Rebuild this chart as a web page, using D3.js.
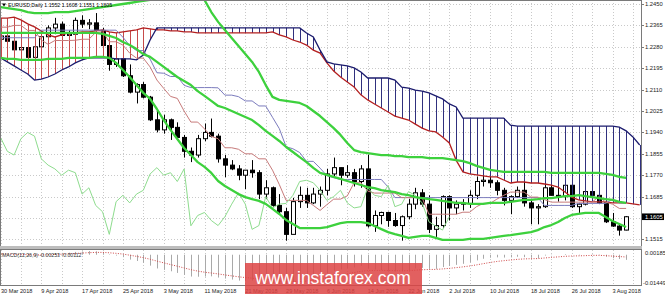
<!DOCTYPE html>
<html lang="en">
<head>
<meta charset="utf-8">
<title>EURUSD Daily</title>
<script src="https://cdnjs.cloudflare.com/ajax/libs/d3/7.8.5/d3.min.js"></script>
<style>
  body { margin: 0; padding: 0; background: white; }
  svg { display: block; background: white; }
  text { font-family: "Liberation Sans", Arial, sans-serif; }
</style>
</head>
<body>
<div id="chart"></div>
<script>
// bars: 30 Mar 2018 .. 7 Aug 2018
var dates = ["2018-03-30","2018-04-02","2018-04-03","2018-04-04","2018-04-05","2018-04-06","2018-04-09","2018-04-10","2018-04-11","2018-04-12","2018-04-13","2018-04-16","2018-04-17","2018-04-18","2018-04-19","2018-04-20","2018-04-23","2018-04-24","2018-04-25","2018-04-26","2018-04-27","2018-04-30","2018-05-01","2018-05-02","2018-05-03","2018-05-04","2018-05-07","2018-05-08","2018-05-09","2018-05-10","2018-05-11","2018-05-14","2018-05-15","2018-05-16","2018-05-17","2018-05-18","2018-05-21","2018-05-22","2018-05-23","2018-05-24","2018-05-25","2018-05-28","2018-05-29","2018-05-30","2018-05-31","2018-06-01","2018-06-04","2018-06-05","2018-06-06","2018-06-07","2018-06-08","2018-06-11","2018-06-12","2018-06-13","2018-06-14","2018-06-15","2018-06-18","2018-06-19","2018-06-20","2018-06-21","2018-06-22","2018-06-25","2018-06-26","2018-06-27","2018-06-28","2018-06-29","2018-07-02","2018-07-03","2018-07-04","2018-07-05","2018-07-06","2018-07-09","2018-07-10","2018-07-11","2018-07-12","2018-07-13","2018-07-16","2018-07-17","2018-07-18","2018-07-19","2018-07-20","2018-07-23","2018-07-24","2018-07-25","2018-07-26","2018-07-27","2018-07-30","2018-07-31","2018-08-01","2018-08-02","2018-08-03","2018-08-06","2018-08-07"];

var opens = [1.2310,1.2323,1.2302,1.2268,1.2277,1.2238,1.2280,1.2320,1.2355,1.2370,
  1.2325,1.2330,1.2385,1.2370,1.2375,1.2345,1.2285,1.2210,1.2232,1.2165,
  1.2100,1.2130,1.2080,1.1990,1.1950,1.1990,1.1960,1.1920,1.1865,1.1850,
  1.1915,1.1940,1.1925,1.1835,1.1810,1.1795,1.1770,1.1790,1.1780,1.1695,
  1.1720,1.1650,1.1625,1.1535,1.1665,1.1690,1.1660,1.1695,1.1710,1.1775,
  1.1800,1.1770,1.1780,1.1745,1.1795,1.1569,1.1610,1.1622,1.1590,1.1570,
  1.1605,1.1655,1.1700,1.1655,1.1555,1.1570,1.1685,1.1640,1.1655,1.1658,
  1.1690,1.1745,1.1750,1.1740,1.1710,1.1670,1.1685,1.1710,1.1660,1.1640,
  1.1645,1.1720,1.1690,1.1685,1.1730,1.1645,1.1655,1.1705,1.1690,1.1660,
  1.1585,1.1568,1.1552];
var highs = [1.2335,1.2345,1.2325,1.2310,1.2290,1.2295,1.2340,1.2365,1.2395,1.2380,
  1.2345,1.2396,1.2405,1.2390,1.2414,1.2355,1.2295,1.2255,1.2240,1.2210,
  1.2135,1.2140,1.2085,1.2025,1.2010,1.1995,1.1980,1.1930,1.1880,1.1930,
  1.1975,1.1995,1.1935,1.1850,1.1830,1.1810,1.1790,1.1830,1.1790,1.1750,
  1.1725,1.1695,1.1640,1.1680,1.1725,1.1720,1.1720,1.1725,1.1795,1.1840,
  1.1800,1.1810,1.1795,1.1810,1.1852,1.1630,1.1625,1.1625,1.1620,1.1610,
  1.1675,1.1720,1.1715,1.1690,1.1605,1.1690,1.1690,1.1670,1.1675,1.1710,
  1.1765,1.1790,1.1770,1.1750,1.1720,1.1690,1.1725,1.1745,1.1675,1.1655,
  1.1750,1.1740,1.1730,1.1735,1.1745,1.1660,1.1720,1.1745,1.1710,1.1665,
  1.1620,1.1575,1.1608];
var lows = [1.2305,1.2290,1.2255,1.2255,1.2215,1.2215,1.2260,1.2310,1.2330,1.2305,
  1.2295,1.2320,1.2355,1.2350,1.2340,1.2265,1.2185,1.2200,1.2160,1.2095,
  1.2055,1.2075,1.1985,1.1940,1.1935,1.1910,1.1910,1.1840,1.1822,1.1840,
  1.1905,1.1920,1.1820,1.1762,1.1790,1.1750,1.1715,1.1760,1.1675,1.1675,
  1.1645,1.1615,1.1510,1.1535,1.1640,1.1640,1.1655,1.1645,1.1690,1.1765,
  1.1730,1.1760,1.1725,1.1720,1.1562,1.1545,1.1575,1.1565,1.1565,1.1510,
  1.1595,1.1635,1.1645,1.1540,1.1525,1.1560,1.1590,1.1615,1.1630,1.1640,
  1.1675,1.1725,1.1720,1.1690,1.1650,1.1615,1.1680,1.1645,1.1575,1.1575,
  1.1640,1.1690,1.1665,1.1670,1.1640,1.1620,1.1650,1.1685,1.1655,1.1580,
  1.1565,1.1530,1.1551];
var closes = [1.2323,1.2302,1.2268,1.2277,1.2238,1.2280,1.2320,1.2355,1.2370,1.2325,
  1.2330,1.2385,1.2370,1.2375,1.2345,1.2285,1.2210,1.2232,1.2165,1.2100,
  1.2130,1.2080,1.1990,1.1950,1.1990,1.1960,1.1920,1.1865,1.1850,1.1915,
  1.1940,1.1925,1.1835,1.1810,1.1795,1.1770,1.1790,1.1780,1.1695,1.1720,
  1.1650,1.1625,1.1535,1.1665,1.1690,1.1660,1.1695,1.1710,1.1775,1.1800,
  1.1770,1.1780,1.1745,1.1795,1.1569,1.1610,1.1622,1.1590,1.1570,1.1605,
  1.1655,1.1700,1.1655,1.1555,1.1570,1.1685,1.1640,1.1655,1.1658,1.1690,
  1.1745,1.1750,1.1740,1.1710,1.1670,1.1685,1.1710,1.1660,1.1640,1.1645,
  1.1720,1.1690,1.1685,1.1730,1.1645,1.1655,1.1705,1.1690,1.1660,1.1585,
  1.1568,1.1552,1.1605];

// Bollinger bands (green)
var bbUpper = [1.2438,1.2434,1.2430,1.2426,1.2418,1.2414,1.2414,1.2414,1.2418,1.2418,
  1.2418,1.2422,1.2426,1.2430,1.2434,1.2438,1.2442,1.2446,1.2450,1.2454,
  1.2458,1.2462,1.2466,1.2478,1.2490,1.2498,1.2502,1.2498,1.2490,1.2478,
  1.2466,1.2418,1.2379,1.2347,1.2315,1.2283,1.2251,1.2220,1.2180,1.2128,
  1.2081,1.2069,1.2065,1.2061,1.2057,1.2045,1.2025,1.2005,1.1981,1.1957,
  1.1930,1.1898,1.1870,1.1862,1.1858,1.1854,1.1850,1.1850,1.1846,1.1846,
  1.1842,1.1842,1.1842,1.1838,1.1838,1.1838,1.1834,1.1830,1.1826,1.1818,
  1.1807,1.1799,1.1791,1.1787,1.1783,1.1783,1.1783,1.1783,1.1783,1.1783,
  1.1783,1.1779,1.1779,1.1779,1.1779,1.1779,1.1779,1.1779,1.1779,1.1775,
  1.1771,1.1763,1.1759];
var bbMiddle = [1.2335,1.2335,1.2335,1.2335,1.2335,1.2335,1.2335,1.2335,1.2335,1.2335,
  1.2335,1.2335,1.2335,1.2335,1.2335,1.2331,1.2323,1.2315,1.2299,1.2287,
  1.2271,1.2251,1.2240,1.2220,1.2200,1.2180,1.2160,1.2144,1.2128,1.2104,
  1.2085,1.2065,1.2045,1.2037,1.2025,1.2013,1.2001,1.1989,1.1969,1.1946,
  1.1926,1.1906,1.1882,1.1862,1.1842,1.1822,1.1799,1.1779,1.1771,1.1763,
  1.1755,1.1747,1.1739,1.1731,1.1723,1.1719,1.1711,1.1707,1.1703,1.1695,
  1.1691,1.1683,1.1679,1.1675,1.1672,1.1668,1.1664,1.1660,1.1660,1.1656,
  1.1656,1.1656,1.1660,1.1660,1.1660,1.1664,1.1668,1.1672,1.1672,1.1675,
  1.1679,1.1679,1.1683,1.1687,1.1687,1.1691,1.1687,1.1683,1.1679,1.1675,
  1.1672,1.1664,1.1660];
var bbLower = [1.2236,1.2232,1.2232,1.2228,1.2228,1.2228,1.2228,1.2232,1.2232,1.2232,
  1.2236,1.2236,1.2236,1.2236,1.2240,1.2240,1.2236,1.2216,1.2188,1.2160,
  1.2128,1.2097,1.2073,1.2033,1.1989,1.1950,1.1914,1.1878,1.1850,1.1822,
  1.1803,1.1779,1.1747,1.1727,1.1711,1.1695,1.1683,1.1675,1.1668,1.1656,
  1.1636,1.1616,1.1592,1.1576,1.1560,1.1560,1.1560,1.1560,1.1564,1.1572,
  1.1580,1.1584,1.1584,1.1584,1.1580,1.1568,1.1556,1.1544,1.1536,1.1529,
  1.1521,1.1525,1.1529,1.1529,1.1521,1.1513,1.1513,1.1513,1.1513,1.1517,
  1.1517,1.1517,1.1521,1.1525,1.1529,1.1532,1.1536,1.1540,1.1544,1.1552,
  1.1564,1.1572,1.1584,1.1600,1.1612,1.1616,1.1620,1.1620,1.1620,1.1604,
  1.1588,1.1576,1.1564];

// Ichimoku
var tenkan = [1.2358,1.2358,1.2365,1.2365,1.2345,1.2345,1.2307,1.2290,1.2305,1.2305,
  1.2305,1.2306,1.2310,1.2310,1.2337,1.2340,1.2300,1.2300,1.2287,1.2255,
  1.2235,1.2235,1.2200,1.2148,1.2115,1.2083,1.2075,1.2025,1.1981,1.1981,
  1.1954,1.1924,1.1915,1.1879,1.1879,1.1873,1.1855,1.1855,1.1835,1.1835,
  1.1790,1.1733,1.1670,1.1670,1.1670,1.1670,1.1650,1.1630,1.1653,1.1675,
  1.1675,1.1688,1.1740,1.1740,1.1707,1.1699,1.1699,1.1699,1.1699,1.1681,
  1.1681,1.1681,1.1681,1.1615,1.1615,1.1615,1.1615,1.1615,1.1623,1.1623,
  1.1645,1.1658,1.1658,1.1675,1.1690,1.1703,1.1703,1.1703,1.1683,1.1683,
  1.1673,1.1663,1.1663,1.1663,1.1663,1.1663,1.1663,1.1663,1.1685,1.1663,
  1.1655,1.1638,1.1638];
var kijun = [1.2316,1.2316,1.2316,1.2316,1.2316,1.2316,1.2346,1.2346,1.2346,1.2346,
  1.2346,1.2346,1.2346,1.2346,1.2346,1.2346,1.2346,1.2346,1.2318,1.2285,
  1.2265,1.2265,1.2231,1.2177,1.2175,1.2162,1.2162,1.2127,1.2118,1.2118,
  1.2118,1.2118,1.2117,1.2088,1.2088,1.2082,1.2065,1.2065,1.2045,1.2045,
  1.2000,1.1955,1.1883,1.1875,1.1860,1.1825,1.1825,1.1798,1.1768,1.1760,
  1.1753,1.1753,1.1753,1.1753,1.1753,1.1753,1.1753,1.1723,1.1681,1.1681,
  1.1681,1.1681,1.1681,1.1681,1.1681,1.1681,1.1681,1.1681,1.1681,1.1681,
  1.1681,1.1681,1.1681,1.1681,1.1681,1.1681,1.1681,1.1681,1.1681,1.1681,
  1.1650,1.1650,1.1650,1.1650,1.1650,1.1658,1.1658,1.1658,1.1658,1.1658,
  1.1675,1.1660,1.1660];
var spanA = [1.2394,1.2394,1.2398,1.2387,1.2371,1.2359,1.2343,1.2327,1.2319,1.2327,
  1.2335,1.2335,1.2339,1.2339,1.2343,1.2347,1.2339,1.2335,1.2339,1.2343,
  1.2347,1.2355,1.2351,1.2347,1.2347,1.2343,1.2343,1.2339,1.2339,1.2335,
  1.2335,1.2335,1.2335,1.2335,1.2335,1.2335,1.2335,1.2335,1.2335,1.2335,
  1.2339,1.2327,1.2319,1.2307,1.2299,1.2287,1.2267,1.2255,1.2216,1.2184,
  1.2160,1.2140,1.2120,1.2089,1.2069,1.2053,1.2037,1.2021,1.2005,1.1997,
  1.1989,1.1973,1.1957,1.1946,1.1942,1.1922,1.1898,1.1830,1.1783,1.1775,
  1.1771,1.1767,1.1763,1.1763,1.1751,1.1739,1.1743,1.1743,1.1739,1.1739,
  1.1735,1.1731,1.1723,1.1703,1.1683,1.1672,1.1668,1.1664,1.1664,1.1664,
  1.1660,1.1660,1.1660,1.1656,1.1652];
var spanB = [1.2236,1.2220,1.2204,1.2188,1.2172,1.2148,1.2152,1.2160,1.2172,1.2188,
  1.2200,1.2216,1.2228,1.2236,1.2236,1.2236,1.2236,1.2232,1.2232,1.2232,
  1.2228,1.2247,1.2307,1.2355,1.2355,1.2355,1.2355,1.2355,1.2355,1.2355,
  1.2355,1.2355,1.2355,1.2355,1.2355,1.2355,1.2355,1.2355,1.2355,1.2355,
  1.2355,1.2355,1.2355,1.2355,1.2355,1.2335,1.2319,1.2267,1.2220,1.2212,
  1.2208,1.2204,1.2196,1.2180,1.2156,1.2156,1.2156,1.2156,1.2148,1.2120,
  1.2116,1.2108,1.2104,1.2097,1.2085,1.2073,1.2053,1.2041,1.1997,1.1997,
  1.1997,1.1997,1.1997,1.1997,1.1997,1.1969,1.1965,1.1965,1.1965,1.1965,
  1.1965,1.1965,1.1965,1.1965,1.1965,1.1965,1.1965,1.1965,1.1965,1.1965,
  1.1965,1.1961,1.1946,1.1922,1.1890];

// MACD(12,26,9)
var macdMain = [0.0005,0.0003,0.0000,-0.0002,-0.0005,-0.0005,-0.0002,0.0003,0.0008,0.0009,
  0.0010,0.0014,0.0016,0.0018,0.0017,0.0012,0.0002,-0.0004,-0.0012,-0.0024,
  -0.0031,-0.0040,-0.0054,-0.0068,-0.0075,-0.0082,-0.0090,-0.0100,-0.0108,-0.0109,
  -0.0108,-0.0107,-0.0113,-0.0118,-0.0123,-0.0128,-0.0128,-0.0128,-0.0134,-0.0135,
  -0.0140,-0.0144,-0.0145,-0.0137,-0.0128,-0.0122,-0.0113,-0.0104,-0.0092,-0.0080,
  -0.0073,-0.0066,-0.0063,-0.0055,-0.0067,-0.0073,-0.0076,-0.0080,-0.0083,-0.0082,
  -0.0076,-0.0068,-0.0065,-0.0069,-0.0070,-0.0061,-0.0056,-0.0050,-0.0045,-0.0038,
  -0.0028,-0.0020,-0.0015,-0.0013,-0.0014,-0.0013,-0.0010,-0.0012,-0.0015,-0.0017,
  -0.0004,-0.0002,0.0000,0.0003,0.0000,-0.0003,0.0000,0.0002,-0.0002,-0.0010,
  -0.0017,-0.0021,-0.00253];
var macdSignal = [0.00034,0.00033,0.00026,0.00017,0.00004,-0.00007,-0.00010,-0.00002,0.00014,0.00029,
  0.00043,0.00063,0.00082,0.00102,0.00115,0.00116,0.00097,0.00070,0.00032,-0.00022,
  -0.00080,-0.00144,-0.00223,-0.00315,-0.00402,-0.00486,-0.00569,-0.00655,-0.00740,-0.00810,
  -0.00864,-0.00905,-0.00950,-0.01000,-0.01046,-0.01093,-0.01130,-0.01160,-0.01196,-0.01227,
  -0.01262,-0.01297,-0.01328,-0.01336,-0.01325,-0.01304,-0.01269,-0.01223,-0.01162,-0.01090,
  -0.01018,-0.00946,-0.00883,-0.00816,-0.00787,-0.00776,-0.00773,-0.00778,-0.00789,-0.00795,
  -0.00788,-0.00766,-0.00743,-0.00732,-0.00726,-0.00703,-0.00674,-0.00639,-0.00601,-0.00557,
  -0.00502,-0.00442,-0.00383,-0.00333,-0.00294,-0.00261,-0.00229,-0.00207,-0.00196,-0.00191,
  -0.00161,-0.00133,-0.00106,-0.00079,-0.00063,-0.00056,-0.00045,-0.00032,-0.00030,-0.00044,
  -0.00069,-0.00090,-0.00112];

var priceTicks = [1.2450,1.2365,1.2280,1.2195,1.2110,1.2025,1.1940,1.1855,1.1770,1.1685,1.1600,1.1515];
var macdTicks = [0.00185,-0.01449];
var chartTitle = "EURUSD,Daily  1.1552 1.1608 1.1551 1.1605";
var macdTitle = "MACD(12,26,9) -0.00253 -0.00112";
var lastPrice = 1.1605;
var chikouShift = 26;

var width = 665, height = 294;
var axisX = 641, mainBottom = 246, macdTop = 250, macdBottom = 285;

var svg = d3.select("#chart")
  .append("svg")
  .attr("width", width)
  .attr("height", height);

var x = d3.scaleLinear().domain([0, 90]).range([0.5, 612.5]);
var y = d3.scaleLinear().domain([1.1515, 1.2450]).range([239.4, 4]);
var ym = d3.scaleLinear().domain([-0.01449, 0.00185]).range([284, 251]);
var px = function(i){ return Math.round(x(i)) + 0.5; };
var parseDate = d3.timeParse("%Y-%m-%d");
var fmtDate = d3.timeFormat("%-d %b %Y");

var defs = svg.append("defs");
defs.append("clipPath").attr("id", "clipMain")
  .append("rect").attr("x", 0).attr("y", 0).attr("width", axisX).attr("height", mainBottom);
defs.append("clipPath").attr("id", "clipMacd")
  .append("rect").attr("x", 0).attr("y", macdTop).attr("width", axisX).attr("height", macdBottom - macdTop);

// grid
var gridCols = d3.range(0, 94, 3);
var grid = svg.append("g").attr("stroke", "#c9c9c9").attr("stroke-dasharray", "1,2").attr("stroke-width", 1);
grid.selectAll("line.v").data(gridCols).enter().append("line")
  .attr("x1", px).attr("x2", px).attr("y1", 0).attr("y2", mainBottom);
grid.selectAll("line.vm").data(gridCols).enter().append("line")
  .attr("x1", px).attr("x2", px).attr("y1", macdTop).attr("y2", macdBottom);
grid.selectAll("line.h").data(priceTicks).enter().append("line")
  .attr("x1", 0).attr("x2", axisX)
  .attr("y1", function(d){ return Math.round(y(d)) + 0.5; })
  .attr("y2", function(d){ return Math.round(y(d)) + 0.5; });

var main = svg.append("g").attr("clip-path", "url(#clipMain)");

// candles
var candles = main.append("g");
var idx = d3.range(opens.length);
candles.selectAll("line").data(idx).enter().append("line")
  .attr("x1", px).attr("x2", px)
  .attr("y1", function(i){ return y(highs[i]); })
  .attr("y2", function(i){ return y(lows[i]); })
  .attr("stroke", "#000").attr("stroke-width", 1);
candles.selectAll("rect").data(idx).enter().append("rect")
  .attr("x", function(i){ return Math.round(x(i)) - 1.5; })
  .attr("width", 4)
  .attr("y", function(i){ return y(Math.max(opens[i], closes[i])); })
  .attr("height", function(i){ return Math.max(0.8, Math.abs(y(opens[i]) - y(closes[i]))); })
  .attr("fill", function(i){ return closes[i] >= opens[i] ? "#fff" : "#000"; })
  .attr("stroke", "#000").attr("stroke-width", 1);

// kumo hatching
main.append("g").selectAll("line").data(d3.range(spanA.length)).enter().append("line")
  .attr("x1", px).attr("x2", px)
  .attr("y1", function(i){ return y(spanA[i]); })
  .attr("y2", function(i){ return y(spanB[i]); })
  .attr("stroke", function(i){ return spanA[i] > spanB[i] ? "#c64a4a" : "#30307e"; })
  .attr("stroke-width", 1);

var line = d3.line().x(function(d, i){ return x(i); }).y(function(d){ return y(d); });

main.append("path").datum(spanA).attr("d", line)
  .attr("fill", "none").attr("stroke", "#b42020").attr("stroke-width", 1.3);
main.append("path").datum(spanB).attr("d", line)
  .attr("fill", "none").attr("stroke", "#1c1c6e").attr("stroke-width", 1.3);

main.append("path").datum(kijun).attr("d", line)
  .attr("fill", "none").attr("stroke", "#7b7bbd").attr("stroke-width", 1);
main.append("path").datum(tenkan).attr("d", line)
  .attr("fill", "none").attr("stroke", "#c77a7a").attr("stroke-width", 1);

// chikou span = closes drawn 26 bars back
main.append("path").datum(closes.slice(chikouShift)).attr("d", line)
  .attr("fill", "none").attr("stroke", "#8edc8e").attr("stroke-width", 1);

[bbUpper, bbMiddle, bbLower].forEach(function(band){
  main.append("path").datum(band).attr("d", line)
    .attr("fill", "none").attr("stroke", "#3dd13d").attr("stroke-width", 2.3)
    .attr("stroke-linejoin", "round");
});

// MACD window
var macd = svg.append("g").attr("clip-path", "url(#clipMacd)");
macd.selectAll("line").data(idx).enter().append("line")
  .attr("x1", px).attr("x2", px)
  .attr("y1", ym(0))
  .attr("y2", function(i){ return ym(macdMain[i]); })
  .attr("stroke", "#a9a9a9").attr("stroke-width", 1);
macd.append("path").datum(macdSignal)
  .attr("d", d3.line().x(function(d, i){ return x(i); }).y(function(d){ return ym(d); }))
  .attr("fill", "none").attr("stroke", "#d04848").attr("stroke-width", 1)
  .attr("stroke-dasharray", "1,1.5");

// frames
var frame = svg.append("g").attr("stroke", "#7a7a7a").attr("stroke-width", 1);
frame.append("line").attr("x1", 0.5).attr("x2", 0.5).attr("y1", 0).attr("y2", macdBottom);
frame.append("line").attr("x1", axisX + 0.5).attr("x2", axisX + 0.5).attr("y1", 0).attr("y2", macdBottom);
frame.append("line").attr("x1", 0).attr("x2", axisX).attr("y1", 0.5).attr("y2", 0.5);
svg.append("rect").attr("x", 0).attr("y", mainBottom).attr("width", axisX + 1).attr("height", 3).attr("fill", "#bdbdbd");
frame.append("line").attr("x1", 0).attr("x2", axisX + 1).attr("y1", mainBottom + 0.5).attr("y2", mainBottom + 0.5);
frame.append("line").attr("x1", 0).attr("x2", axisX + 1).attr("y1", macdTop - 0.5).attr("y2", macdTop - 0.5);
frame.append("line").attr("x1", 0).attr("x2", axisX + 1).attr("y1", macdBottom + 0.5).attr("y2", macdBottom + 0.5);

// price axis
var axisG = svg.append("g").attr("font-size", 5.8).attr("fill", "#222");
axisG.selectAll("line").data(priceTicks).enter().append("line")
  .attr("x1", axisX).attr("x2", axisX + 3)
  .attr("y1", function(d){ return Math.round(y(d)) + 0.5; })
  .attr("y2", function(d){ return Math.round(y(d)) + 0.5; })
  .attr("stroke", "#7a7a7a");
axisG.selectAll("text").data(priceTicks).enter().append("text")
  .attr("x", axisX + 4)
  .attr("y", function(d){ return y(d) + 2; })
  .text(function(d){ return d.toFixed(4); });

// current price label
svg.append("rect").attr("x", axisX + 1).attr("y", y(lastPrice) - 3.3)
  .attr("width", 22).attr("height", 6.6).attr("fill", "#000");
svg.append("text").attr("x", axisX + 4).attr("y", y(lastPrice) + 2)
  .attr("font-size", 5.8).attr("fill", "#fff").text(lastPrice.toFixed(4));

// MACD axis
svg.append("g").attr("font-size", 5.8).attr("fill", "#222")
  .selectAll("text").data(macdTicks).enter().append("text")
  .attr("x", function(d){ return d < 0 ? axisX + 2 : axisX + 4; })
  .attr("y", function(d){ return d < 0 ? ym(d) + 1 : ym(d) + 3.5; })
  .text(function(d){ return d.toFixed(5); });

// time axis
svg.append("g").attr("font-size", 5.6).attr("fill", "#222")
  .selectAll("text").data(d3.range(0, dates.length, 6)).enter().append("text")
  .attr("x", function(i){ return Math.max(1, x(i)); })
  .attr("y", 292.5)
  .text(function(i){ return fmtDate(parseDate(dates[i])); });

// titles
svg.append("path").attr("d", "M2,3.5 L6,3.5 L4,6.5 Z").attr("fill", "#000");
svg.append("text").attr("x", 8).attr("y", 7).attr("font-size", 5.2).attr("fill", "#000").text(chartTitle);
svg.append("text").attr("x", 2).attr("y", 256.5).attr("font-size", 5.2).attr("fill", "#333").text(macdTitle);

// watermark
svg.append("rect").attr("x", 245).attr("y", 263).attr("width", 177).attr("height", 31)
  .attr("fill", "#dd4444").attr("fill-opacity", 0.85);
svg.append("text").attr("x", 333).attr("y", 284).attr("text-anchor", "middle")
  .attr("font-size", 17.5).attr("fill", "#fff").text("www.instaforex.com");
</script>
</body>
</html>
